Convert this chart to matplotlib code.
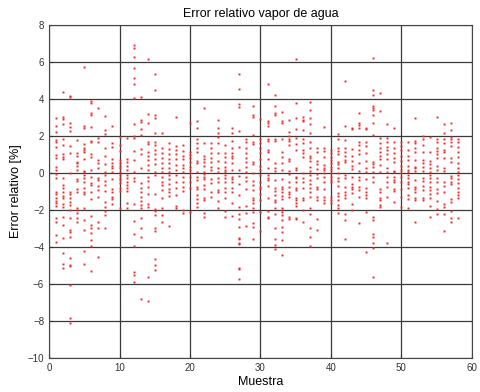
import matplotlib
matplotlib.use("Agg")
import matplotlib.pyplot as plt

# values, one list per sample (x = 1..58)
col01 = [2.99, 2.55, 2.23, 1.78, 1.65, 1.38, 0.97, 0.83, 0.34, 0.16, -0.07, -0.29, -1.01, -1.15, -1.37, -1.51, -1.64, -1.76, -2.45, -2.66, -3.35, -3.71]
col02 = [4.39, 3.04, 2.91, 2.63, 1.83, 1.51, 1.01, 0.88, 0.76, -0.25, -0.65, -0.79, -1.01, -1.22, -1.33, -1.69, -1.82, -2.36, -2.81, -3.49, -4.33, -4.93, -5.14]
col03 = [4.17, 4.1, 2.73, 2.5, 2.27, 1.47, 1.1, -0.02, -1.01, -1.15, -1.37, -1.55, -1.73, -2.0, -2.41, -3.08, -3.17, -3.44, -4.6, -5.0, -5.04, -6.04, -7.84, -8.13]
col04 = [1.78, 1.06, 0.94, 0.61, 0.52, 0.4, 0.16, -0.32, -0.41, -0.86, -1.04, -1.87, -1.98, -2.19, -2.45, -2.66]
col05 = [5.72, 2.55, 2.45, 1.56, 1.33, 1.24, 1.12, 0.76, 0.11, 0.04, -0.11, -0.25, -0.47, -0.79, -1.01, -1.15, -1.91, -2.54, -3.08, -4.24, -4.93]
col06 = [3.88, 3.76, 3.27, 3.13, 2.5, 1.73, 1.65, 1.01, 0.88, 0.16, -0.2, -0.56, -0.65, -1.04, -1.4, -2.3, -2.81, -2.95, -3.26, -3.62, -3.97, -5.29]
col07 = [3.53, 1.87, 1.65, 0.7, 0.52, 0.25, -0.25, -0.38, -0.68, -0.92, -1.28, -2.66, -2.99, -4.57]
col08 = [3.09, 2.32, 2.1, 1.33, 0.94, 0.47, 0.04, -0.11, -0.43, -0.65, -0.97, -1.55, -1.82, -2.05, -2.27, -2.99]
col09 = [2.55, 1.6, 1.4, 0.76, 0.52, 0.4, 0.25, 0.07, -0.32, -0.86, -1.01, -1.28, -1.4, -1.65]
col10 = [1.96, 1.51, 1.19, 0.7, 0.52, 0.4, 0.25, 0.07, -0.11, -0.25, -0.38, -0.56, -0.83, -0.97, -1.91]
col11 = [1.87, 0.76, 0.61, 0.4, 0.16, -0.11, -0.29, -0.47, -0.65, -0.83, -0.97, -1.64, -1.91]
col12 = [6.91, 6.76, 6.29, 5.68, 5.16, 4.84, 4.03, 2.64, 2.01, 1.87, 1.19, 0.7, 0.07, -0.29, -0.43, -1.69, -2.57, -3.29, -3.97, -5.36, -5.5, -5.92]
col13 = [4.12, 2.86, 2.77, 2.37, 2.05, 1.29, 1.01, 0.29, -0.56, -0.83, -1.01, -1.28, -1.51, -1.73, -1.87, -2.41, -2.95, -3.44, -6.8]
col14 = [6.19, 3.17, 2.68, 1.69, 1.55, 1.12, 0.94, 0.7, 0.43, 0.16, -0.2, -0.43, -0.74, -1.15, -1.69, -1.82, -5.61, -6.94]
col15 = [5.38, 4.48, 3.13, 2.99, 2.14, 1.69, 1.51, 1.24, 1.01, 0.76, 0.47, 0.07, -0.11, -1.15, -1.94, -2.05, -2.27, -2.99, -3.13, -4.64, -4.96, -5.23]
col16 = [2.19, 1.33, 1.06, 0.79, 0.52, 0.29, 0.07, -0.2, -0.47, -0.65, -0.92, -1.33, -1.91, -2.27, -2.66]
col17 = [1.6, 1.29, 1.01, 0.76, 0.52, 0.29, 0.07, -0.11, -0.32, -0.61, -0.86, -1.01, -1.22, -2.84]
col18 = [3.04, 1.47, 1.24, 1.01, 0.76, 0.43, 0.16, -0.11, -0.47, -0.83, -1.19, -1.76, -1.91]
col19 = [1.51, 1.19, 0.94, 0.76, 0.43, 0.29, 0.07, -0.2, -0.47, -0.74, -0.97, -2.0, -2.18]
col20 = [2.73, 1.15, 0.97, 0.79, 0.61, 0.34, 0.16, -0.02, -0.2, -0.47, -0.79, -2.09]
col21 = [2.81, 2.41, 1.83, 1.6, 1.33, 1.12, 0.65, 0.52, 0.04, -0.2, -0.38, -0.74, -0.86, -1.19, -1.4, -1.64, -1.82]
col22 = [3.53, 1.6, 0.94, 0.76, 0.61, 0.4, 0.07, -0.07, -0.2, -0.32, -0.65, -0.86, -1.33, -1.46, -2.18, -2.39]
col23 = [1.6, 1.33, 1.06, 0.79, 0.61, 0.34, 0.16, -0.32, -0.56, -1.01, -1.28]
col24 = [2.86, 2.45, 2.14, 1.96, 1.6, 1.06, 0.65, 0.25, 0.07, -0.25, -0.47, -0.92, -1.04, -1.51, -1.91]
col25 = [1.51, 1.06, 0.88, 0.61, 0.34, 0.16, 0.04, -0.11, -0.25, -0.47, -0.83, -1.01, -1.37, -2.05, -2.39]
col26 = [2.41, 2.14, 1.73, 1.33, 1.06, 0.94, 0.79, 0.52, 0.16, -0.2, -0.32, -0.47, -0.83, -1.01, -1.64, -2.3]
col27 = [5.38, 4.57, 3.71, 3.58, 2.27, 1.42, 0.16, -0.14, -0.61, -1.19, -1.82, -2.21, -2.5, -2.9, -3.49, -3.56, -3.79, -3.85, -5.14, -5.2, -5.72]
col28 = [1.83, 1.65, 1.33, 1.06, 0.79, 0.61, 0.34, 0.07, -0.2, -0.43, -0.86, -1.76, -2.18, -2.84]
col29 = [3.6, 3.13, 3.04, 2.05, 1.69, 1.55, 0.58, 0.47, -0.02, -0.43, -0.65, -0.92, -1.33, -1.46, -1.64, -1.91, -2.12, -2.72, -2.9, -3.56]
col30 = [2.91, 1.83, 1.6, 1.33, 1.06, 0.76, 0.4, 0.16, -0.11, -0.47, -0.74, -0.86, -1.15, -1.46, -2.09, -3.13]
col31 = [4.84, 2.81, 2.68, 2.55, 1.83, 1.73, 1.24, 1.15, 0.76, 0.29, -0.11, -0.25, -0.38, -0.68, -1.33, -2.05, -2.36, -2.41]
col32 = [4.21, 3.63, 3.22, 3.13, 1.83, 1.73, 0.52, 0.25, 0.11, -0.38, -0.79, -0.97, -1.19, -1.46, -1.58, -1.87, -2.23, -2.95, -3.56, -3.92, -4.1]
col33 = [3.31, 2.81, 2.73, 1.83, 1.15, 0.88, 0.56, 0.16, -0.32, -0.74, -0.86, -1.01, -1.22, -1.42, -1.87, -2.0, -2.09, -2.27, -2.54, -2.9, -3.17, -3.62, -4.46]
col34 = [2.86, 2.23, 2.01, 1.83, 1.73, 1.51, 0.76, 0.65, 0.11, -0.07, -0.47, -0.74, -1.01, -1.15, -1.28, -2.36, -2.48]
col35 = [6.15, 3.81, 2.99, 2.37, 1.87, 1.55, 1.24, 0.29, 0.16, -0.2, -0.29, -0.47, -0.83, -0.92, -1.37, -1.46, -1.64, -1.76, -2.41, -2.5]
col36 = [3.04, 2.86, 2.81, 2.32, 1.83, 1.6, 1.24, 1.06, 0.88, -0.02, -0.25, -0.47, -0.83, -1.37, -1.46, -2.0, -2.66]
col37 = [3.85, 3.4, 2.99, 2.63, 2.14, 1.65, 1.37, 0.94, 0.79, 0.65, 0.34, 0.11, -0.11, -0.38, -0.61, -0.79, -1.01, -1.28, -1.87, -2.23, -2.95, -3.44, -3.97]
col38 = [1.37, 1.12, 0.65, 0.47, 0.22, -0.07, -0.29, -0.74, -0.86, -1.28, -1.46, -2.5, -3.08]
col39 = [2.5, 1.37, 1.19, 0.88, 0.43, 0.29, 0.16, -0.02, -0.2, -0.47, -0.86, -1.28, -1.46, -1.64]
col40 = [1.24, 1.06, 0.88, 0.7, 0.52, 0.34, 0.16, -0.02, -0.2, -0.38, -0.47, -1.28, -1.46, -1.64]
col41 = [2.09, 1.83, 1.33, 1.19, 1.01, 0.58, 0.47, 0.25, -0.02, -0.25, -0.43, -0.68, -1.1, -1.22, -1.46, -1.73, -1.91, -2.18]
col42 = [4.96, 2.55, 1.78, 1.33, 1.15, 0.94, 0.7, 0.58, -0.11, -0.25, -0.74, -1.01, -1.19, -1.33, -2.23, -2.54, -3.56]
col43 = [2.45, 2.37, 1.29, 0.94, 0.65, 0.4, 0.22, -0.2, -0.61, -0.74, -0.86, -1.1, -1.69, -2.0]
col44 = [3.27, 2.68, 2.59, 2.41, 1.65, 1.51, 1.24, 1.01, 0.52, 0.11, -0.2, -0.38, -0.74, -0.92, -1.28, -2.72]
col45 = [2.41, 2.36, 1.69, 1.47, 1.06, 0.65, 0.29, 0.07, -0.32, -0.83, -1.01, -1.19, -1.33, -2.09, -4.28]
col46 = [6.22, 4.48, 4.21, 3.63, 3.53, 3.4, 3.13, 2.68, 2.05, 0.58, 0.47, 0.34, 0.07, -0.2, -0.5, -2.36, -2.54, -3.31, -3.44, -3.79, -4.06, -5.63]
col47 = [4.35, 3.35, 1.87, 1.6, 1.37, 1.15, 0.94, 0.76, 0.43, 0.04, -0.86, -1.01, -1.33, -1.46, -1.73, -1.82]
col48 = [2.63, 1.91, 1.65, 1.42, 1.24, 1.01, 0.76, 0.29, 0.04, -0.2, -0.47, -0.74, -1.28, -3.79]
col49 = [2.41, 1.65, 1.33, 1.06, 0.79, 0.61, 0.11, 0.04, -0.2, -0.38, -0.47, -0.86, -0.97, -1.55]
col50 = [1.69, 1.47, 1.24, 0.94, 0.65, 0.4, 0.16, -0.02, -0.2, -0.47, -0.86, -1.28, -1.82]
col51 = [1.65, 1.24, 0.94, 0.7, 0.4, 0.16, 0.04, -0.11, -0.29, -0.47, -0.61, -0.79, -1.19, -1.42, -1.91]
col52 = [2.99, 1.73, 1.6, 1.33, 1.12, 0.7, 0.34, 0.25, 0.11, -0.38, -0.74, -0.86, -1.01, -1.37, -1.46, -2.66]
col53 = [2.01, 1.83, 1.51, 1.12, 0.7, 0.52, 0.34, 0.11, -0.25, -0.43, -0.68, -0.92, -1.37, -1.46]
col54 = [1.96, 1.15, 0.65, 0.47, 0.25, 0.04, -0.11, -0.29, -0.47, -0.74, -0.92, -1.15, -1.37, -1.76, -2.36]
col55 = [3.04, 1.83, 1.69, 1.33, 1.19, 1.01, 0.83, 0.4, 0.16, -0.29, -0.47, -0.86, -1.1, -1.51, -1.94, -2.23]
col56 = [2.63, 2.19, 1.83, 1.6, 1.24, 1.12, 0.79, 0.29, 0.11, -0.47, -0.68, -1.01, -1.69, -1.82, -2.23, -3.13]
col57 = [2.68, 2.32, 1.96, 1.83, 1.65, 1.47, 0.83, 0.61, -0.14, -0.25, -0.47, -0.61, -1.4, -1.55, -2.05, -2.45, -2.66]
col58 = [1.83, 1.65, 1.42, 1.15, 0.88, 0.52, 0.29, 0.07, -0.11, -0.32, -0.56, -0.79, -1.01, -1.19, -1.37, -2.45]

columns = [col01, col02, col03, col04, col05, col06, col07, col08, col09, col10,
           col11, col12, col13, col14, col15, col16, col17, col18, col19, col20,
           col21, col22, col23, col24, col25, col26, col27, col28, col29, col30,
           col31, col32, col33, col34, col35, col36, col37, col38, col39, col40,
           col41, col42, col43, col44, col45, col46, col47, col48, col49, col50,
           col51, col52, col53, col54, col55, col56, col57, col58]

xticks = [0, 10, 20, 30, 40, 50, 60]
yticks = [-10, -8, -6, -4, -2, 0, 2, 4, 6, 8]

plt.rcParams['font.family'] = ['Liberation Sans', 'DejaVu Sans']

fig = plt.figure(figsize=(4.81, 3.92), dpi=100)
ax = fig.add_axes([0.102, 0.087, 0.879, 0.849])

xs = []
ys = []
for i, col in enumerate(columns):
    for v in col:
        xs.append(i + 1)
        ys.append(v)

ax.plot(xs, ys, linestyle='none', marker='s', markersize=1.4,
        markeredgewidth=0, color='#f42a2a')

ax.set_xlim(0, 60)
ax.set_ylim(-10, 8)
ax.set_xticks(xticks)
ax.set_yticks(yticks)
ax.grid(True, color='#3a3a3a', linewidth=0.9, linestyle='-')
ax.set_axisbelow(True)
ax.tick_params(direction='in', labelsize=7, length=3, colors='#333333')
for s in ax.spines.values():
    s.set_color('#444444')
    s.set_linewidth(0.8)

ax.set_title('Error relativo vapor de agua', fontsize=9, pad=6)
ax.set_xlabel('Muestra', fontsize=9, labelpad=2)
ax.set_ylabel('Error relativo [%]', fontsize=9, labelpad=4)

fig.savefig('out.png', dpi=100)
